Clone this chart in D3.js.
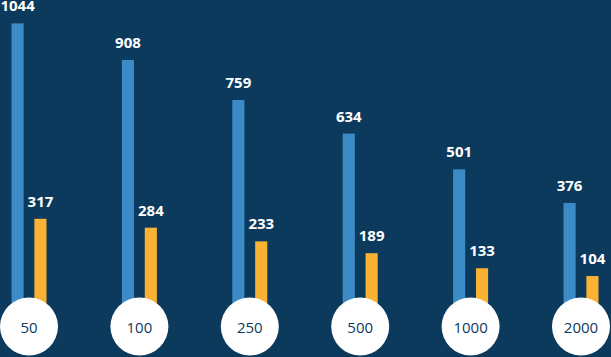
<!DOCTYPE html>
<html>
<head>
<meta charset="utf-8">
<script src="https://cdn.jsdelivr.net/npm/d3@7"></script>
<style>
  html, body { margin: 0; padding: 0; background: #0c3a5d; }
  svg { display: block; }
</style>
</head>
<body>
<svg id="chart" width="611" height="357"></svg>
<script>
const categories = ["50", "100", "250", "500", "1000", "2000"];
const seriesNames = ["blue", "orange"];
const blueValues = [1044, 908, 759, 634, 501, 376];
const orangeValues = [317, 284, 233, 189, 133, 104];

const W = 611, H = 357;
const colors = { blue: "#3d8bc6", orange: "#f9b233" };
const svg = d3.select("#chart");
svg.append("rect").attr("width", W).attr("height", H).attr("fill", "#0c3a5d");

const x = d3.scalePoint().domain(categories).range([29, 581]);
const xInner = d3.scaleBand().domain(seriesNames).range([-17.5, 17.5]).paddingInner(0.47).paddingOuter(0);
const y = d3.scaleLinear().domain([0, 1131]).range([304, 0]);

const rows = categories.map((c, i) => ({ cat: c, values: [
  { key: "blue", value: blueValues[i] },
  { key: "orange", value: orangeValues[i] }
]}));

const g = svg.selectAll("g.group").data(rows).join("g")
  .attr("class", "group")
  .attr("transform", d => `translate(${x(d.cat)},0)`);

g.selectAll("rect.bar").data(d => d.values).join("rect")
  .attr("class", "bar")
  .attr("x", d => xInner(d.key))
  .attr("width", xInner.bandwidth())
  .attr("y", d => y(d.value))
  .attr("height", d => y(0) - y(d.value) + 10)
  .attr("fill", d => colors[d.key]);

g.selectAll("text.val").data(d => d.values).join("text")
  .attr("class", "val")
  .attr("x", d => xInner(d.key) + xInner.bandwidth() / 2)
  .attr("y", d => y(d.value) - 12)
  .attr("text-anchor", "middle")
  .attr("fill", "#ffffff")
  .attr("font-family", "'Open Sans', sans-serif")
  .attr("font-weight", "bold")
  .attr("font-size", 15)
  .text(d => d.value);

g.append("circle")
  .attr("cx", 0)
  .attr("cy", 326.5)
  .attr("r", 29)
  .attr("fill", "#ffffff");

g.append("text")
  .attr("x", 0)
  .attr("y", 327)
  .attr("text-anchor", "middle")
  .attr("dominant-baseline", "central")
  .attr("fill", "#0c3a5d")
  .attr("font-family", "'Open Sans', sans-serif")
  .attr("font-size", 15)
  .text(d => d.cat);
</script>
</body>
</html>
